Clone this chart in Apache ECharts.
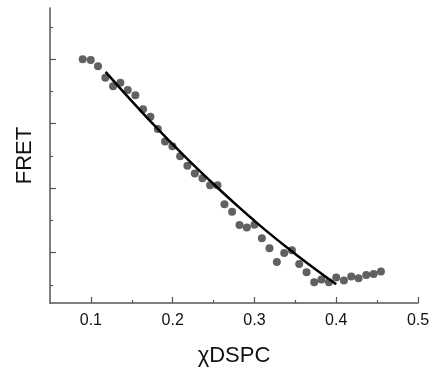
<!DOCTYPE html>
<html><head><meta charset="utf-8">
<script src="https://cdn.jsdelivr.net/npm/echarts@6/dist/echarts.min.js"></script>
<style>html,body{margin:0;padding:0;background:#fff}#c{width:433px;height:372px}</style>
</head><body><div id="c"></div>
<script>
// Measured data (x = mole fraction DSPC, y = FRET, arbitrary units)
const xData = [0.0900,0.0998,0.1087,0.1177,0.1271,0.1360,0.1451,0.1544,0.1638,0.1728,0.1818,0.1907,0.1997,0.2091,0.2180,0.2271,0.2364,0.2458,0.2548,0.2633,0.2727,0.2817,0.2907,0.3000,0.3091,0.3184,0.3274,0.3364,0.3458,0.3547,0.3637,0.3731,0.3820,0.3911,0.4000,0.4094,0.4184,0.4273,0.4367,0.4457,0.4547];
const yData = [7.00,6.98,6.78,6.43,6.16,6.27,6.05,5.88,5.45,5.22,4.84,4.45,4.30,3.99,3.70,3.46,3.31,3.09,3.09,2.50,2.27,1.86,1.78,1.87,1.45,1.14,0.71,0.99,1.08,0.65,0.39,0.08,0.17,0.08,0.23,0.14,0.26,0.21,0.31,0.34,0.42];
const fitX = [0.118,0.15,0.175,0.2,0.225,0.25,0.275,0.3,0.325,0.35,0.375,0.4];
const fitY = [6.61,5.70,5.02,4.36,3.73,3.13,2.55,1.99,1.46,0.96,0.48,0.02];
const xTickLabels = [0.1,0.2,0.3,0.4,0.5];
const xMinorTicks = [0.15,0.25,0.35,0.45];
const yMajorTicks = [1,3,5,7];
const yMinorTicks = [0,2,4,6,8];

const font = '"Liberation Sans", Arial, sans-serif';
const axisColor = '#555';
const chart = echarts.init(document.getElementById('c'));
const xBase = {min:0.05, max:0.5, gridIndex:0};
const yBase = {min:-0.56, max:8.59, gridIndex:0};
chart.setOption({
  animation:false,
  grid:{left:50, right:15, top:8, bottom:69, containLabel:false},
  xAxis:[
    Object.assign({}, xBase, {
      type:'value', position:'bottom',
      name:'χDSPC', nameLocation:'middle', nameGap:42,
      nameTextStyle:{fontFamily:font, fontSize:22, color:'#111'},
      axisLine:{show:true, onZero:false, lineStyle:{color:axisColor, width:1.5}},
      axisTick:{show:true, inside:true, length:6, customValues:xTickLabels, lineStyle:{color:axisColor, width:1.2}},
      axisLabel:{show:true, customValues:xTickLabels, margin:10, fontFamily:font, fontSize:16, color:'#111',
                 formatter:v=>v.toFixed(1)},
      splitLine:{show:false}
    }),
    Object.assign({}, xBase, {
      type:'value', position:'bottom',
      axisLine:{show:false, onZero:false},
      axisTick:{show:true, inside:true, length:3, customValues:xMinorTicks, lineStyle:{color:axisColor, width:1.2}},
      axisLabel:{show:false}, splitLine:{show:false}
    })
  ],
  yAxis:[
    Object.assign({}, yBase, {
      type:'value', position:'left',
      name:'FRET', nameLocation:'middle', nameGap:14,
      nameTextStyle:{fontFamily:font, fontSize:22, color:'#111'},
      axisLine:{show:true, onZero:false, lineStyle:{color:axisColor, width:1.5}},
      axisTick:{show:true, inside:true, length:6, customValues:yMajorTicks, lineStyle:{color:axisColor, width:1.2}},
      axisLabel:{show:false}, splitLine:{show:false}
    }),
    Object.assign({}, yBase, {
      type:'value', position:'left',
      axisLine:{show:false, onZero:false},
      axisTick:{show:true, inside:true, length:3, customValues:yMinorTicks, lineStyle:{color:axisColor, width:1.2}},
      axisLabel:{show:false}, splitLine:{show:false}
    })
  ],
  series:[
    {type:'scatter', xAxisIndex:0, yAxisIndex:0, symbol:'circle', symbolSize:8,
     itemStyle:{color:'#3a3a3a'}, data:xData.map((x,i)=>[x,yData[i]]), z:2},
    {type:'line', xAxisIndex:0, yAxisIndex:0, smooth:true, showSymbol:false, symbol:'none',
     lineStyle:{color:'#000', width:2.5}, data:fitX.map((x,i)=>[x,fitY[i]]), z:3}
  ]
});
</script></body></html>
